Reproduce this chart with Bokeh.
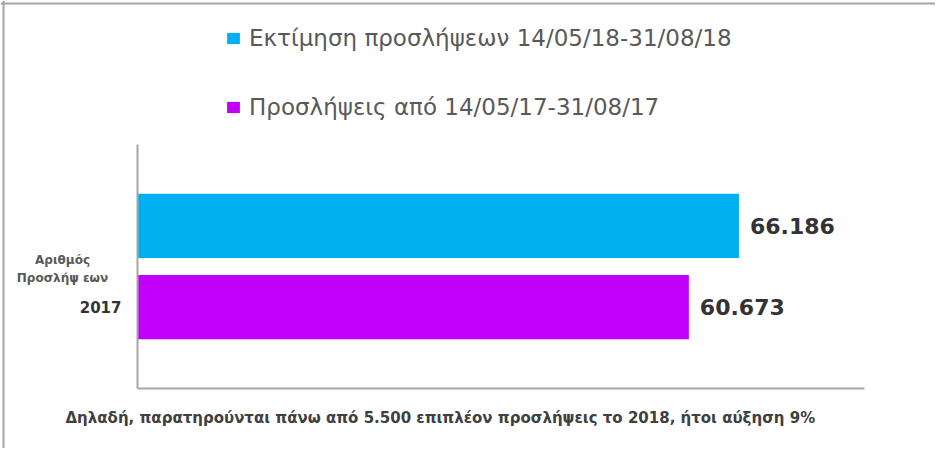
from bokeh.plotting import figure
from bokeh.models import (ColumnDataSource, Range1d, FixedTicker, Legend,
                          LegendItem, LinearAxis, Label, Span)
from bokeh.core.properties import value
from bokeh.embed import file_html
from bokeh.resources import INLINE

# ---- data ----
categories = ["2017", "2018"]
values = [60673, 66186]
series_names = ["Προσλήψεις από 14/05/17-31/08/17",
                "Εκτίμηση προσλήψεων 14/05/18-31/08/18"]
colors = ["#c000f8", "#00b0f0"]
tick_labels = {0: "2017"}
axis_title_lines = ["Αριθμός", "Προσλήψ εων"]
footnote = "Δηλαδή, παρατηρούνται πάνω από 5.500 επιπλέον προσλήψεις το 2018, ήτοι αύξηση 9%"
x_max = 80000

# ---- layout (reference-pixel geometry) ----
W, H = 935, 448
OX, OY = 8, 8                 # canvas origin on the page
AX_L, AX_R = 145, 872         # x-axis line extent (page px)
AX_T, AX_B = 152, 396         # y-axis line extent (page px)
Y_LO, Y_HI = -1, 2            # category axis bounds (bar index units)

def rx(px):
    return (px - AX_L) / (AX_R - AX_L) * x_max

def ry(py):
    return Y_LO + (AX_B - py) / (AX_B - AX_T) * (Y_HI - Y_LO)

src = ColumnDataSource(dict(
    y=list(range(len(categories))),
    v=values,
    txt=[f"{v:,}".replace(",", ".") for v in values],
))

p = figure(width=W, height=H, output_backend="svg", toolbar_location=None,
           x_range=Range1d(rx(OX), rx(OX + W)),
           y_range=Range1d(ry(OY + H), ry(OY)),
           min_border=0, min_border_left=0, min_border_right=0,
           min_border_top=0, min_border_bottom=0,
           x_axis_location=None, y_axis_location=None)
p.outline_line_color = None
p.xgrid.visible = False
p.ygrid.visible = False
p.background_fill_color = "white"
p.border_fill_color = "white"

bars = []
for i in range(len(categories)):
    r = p.hbar(y=[i], left=0, right=[values[i]], height=0.79,
               fill_color=colors[i], line_color=None)
    bars.append(r)

p.text(x="v", y="y", text="txt", source=src, x_offset=11,
       text_baseline="middle", text_align="left",
       text_font=value("DejaVu Sans"), text_font_style="bold",
       text_font_size="22px", text_color="#333333")

# axes, fixed inside the frame
yax = LinearAxis(ticker=FixedTicker(ticks=list(tick_labels.keys())),
                 major_label_overrides=tick_labels,
                 fixed_location=0, bounds=(Y_LO, Y_HI))
yax.axis_line_color = "#a6a6a6"
yax.axis_line_width = 2
yax.major_tick_line_color = None
yax.minor_tick_line_color = None
yax.major_label_standoff = 10
yax.major_label_text_font = "DejaVu Sans"
yax.major_label_text_font_style = "bold"
yax.major_label_text_font_size = "15px"
yax.major_label_text_color = "#333333"
p.add_layout(yax, "left")

xax = LinearAxis(ticker=FixedTicker(ticks=[]), fixed_location=Y_LO,
                 bounds=(0, x_max))
xax.axis_line_color = "#a6a6a6"
xax.axis_line_width = 2
xax.major_tick_line_color = None
xax.minor_tick_line_color = None
xax.major_label_text_font_size = "0px"
p.add_layout(xax, "below")

# y-axis title
for line, py in zip(axis_title_lines, [267, 285]):
    p.add_layout(Label(x=rx(70), y=ry(py), text=line, text_align="center",
                       text_baseline="middle", text_font="DejaVu Sans",
                       text_font_style="bold", text_font_size="12px",
                       text_color="#595959"))

# footnote
p.add_layout(Label(x=rx(73), y=ry(425), text=footnote, text_align="left",
                   text_baseline="middle", text_font="DejaVu Sans",
                   text_font_style="bold", text_font_size="15px",
                   text_color="#404040"))

# legend
items = [LegendItem(label=series_names[1], renderers=[bars[1]]),
         LegendItem(label=series_names[0], renderers=[bars[0]])]
legend = Legend(items=items, location=(233 - OX, OY + H - 128),
                orientation="vertical",
                padding=0, margin=0, spacing=42, glyph_width=16, glyph_height=14,
                label_height=27, label_standoff=8, label_text_font="DejaVu Sans",
                label_text_font_size="23px", label_text_color="#595959",
                border_line_color=None, background_fill_alpha=0)
p.add_layout(legend)

# outer frame lines (top and left)
p.add_layout(Span(location=ry(11), dimension="width",
                  line_color="#a6a6a6", line_width=2))
p.add_layout(Span(location=rx(11), dimension="height",
                  line_color="#a6a6a6", line_width=2))

open("out.html", "w").write(file_html(p, INLINE))
